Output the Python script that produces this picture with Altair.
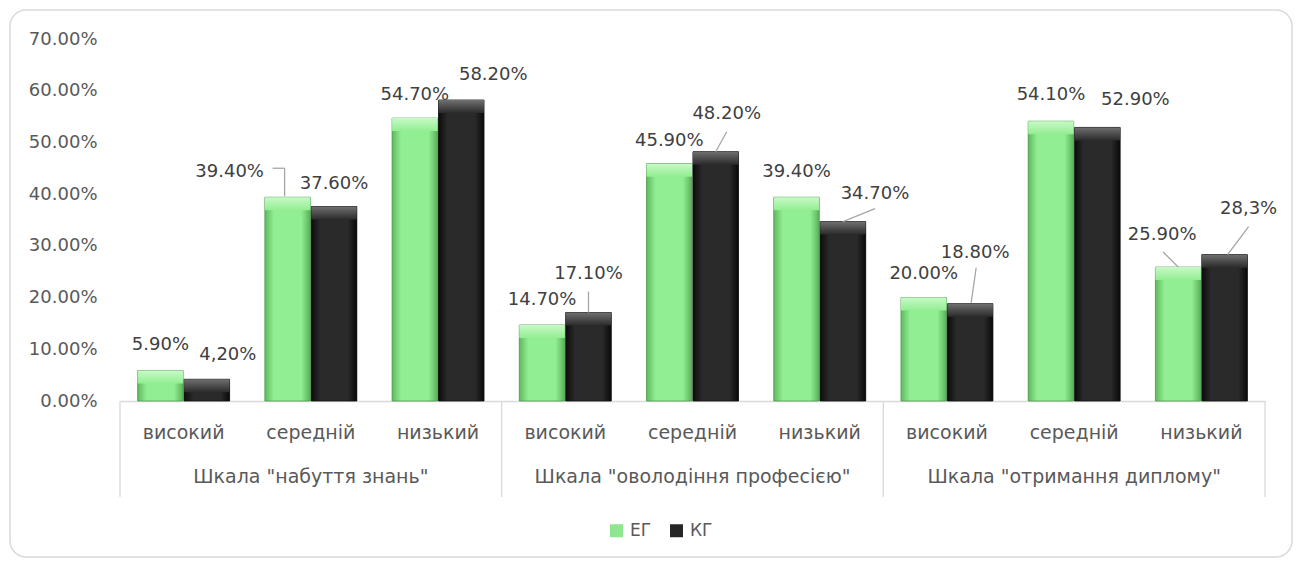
import altair as alt
import pandas as pd

# ---------------- data ----------------
GROUPS = ['Шкала "набуття знань"', 'Шкала "оволодіння професією"', 'Шкала "отримання диплому"']
LEVELS = ["високий", "середній", "низький"]
SERIES = ["ЕГ", "КГ"]
EG = [0.059, 0.394, 0.547, 0.147, 0.459, 0.394, 0.200, 0.541, 0.259]
KG = [0.042, 0.376, 0.582, 0.171, 0.482, 0.347, 0.188, 0.529, 0.283]
EG_LABELS = ["5.90%", "39.40%", "54.70%", "14.70%", "45.90%", "39.40%", "20.00%", "54.10%", "25.90%"]
KG_LABELS = ["4,20%", "37.60%", "58.20%", "17.10%", "48.20%", "34.70%", "18.80%", "52.90%", "28,3%"]
Y_TICKS = [0.0, 0.1, 0.2, 0.3, 0.4, 0.5, 0.6, 0.7]

# ---------------- label layout (pixel offsets from bar centre / bar top) ----------------
EG_DX = [0, -58, 0, 0, 0, 0, 0, 0, -16]
EG_DY = [-25, -25, -23, -25, -23, -25, -24, -26, -32]
KG_DX = [21, 0, 32, 0, 11, 32, 5, 38, 24]
KG_DY = [-24, -23, -25, -39, -38, -28, -51, -27, -46]
# leader lines: series, category index, x1, y1, x2, y2 (px from bar centre / bar top)
LEADERS = [
    ("ЕГ", 1, -15, -29, -3, -29),
    ("ЕГ", 1, -3, -29, -3, -1),
    ("КГ", 3, 0, -21, 0, 0),
    ("КГ", 4, 11, -20, 0, 0),
    ("КГ", 5, 32, -13, 0, 0),
    ("КГ", 6, 6, -36, 1, -1),
    ("ЕГ", 8, -15, -15, 0, 0),
    ("КГ", 8, 24, -28, 3, 0),
]

# ---------------- layout ----------------
W, H = 1145, 362
PI_OFF, PO_OFF = 0.02, 0.38
step = W / 9
sub = step / (2 - PI_OFF + 2 * PO_OFF)
BAR_CENTER = {
    s: PO_OFF * sub + k * sub + sub * (1 - PI_OFF) / 2 - step / 2
    for k, s in enumerate(SERIES)
}

CATS = [f"{g}|{lv}" for g in range(3) for lv in LEVELS]

rows = []
for i, cat in enumerate(CATS):
    rows.append({"cat": cat, "series": "ЕГ", "value": EG[i], "label": EG_LABELS[i]})
    rows.append({"cat": cat, "series": "КГ", "value": KG[i], "label": KG_LABELS[i]})
df = pd.DataFrame(rows)

FONT = "DejaVu Sans"
GRAY = "#595959"


def x_enc(**kw):
    return alt.X(
        "cat:N",
        scale=alt.Scale(domain=CATS, paddingInner=0, paddingOuter=0),
        axis=alt.Axis(
            title=None,
            labelExpr="split(datum.label, '|')[1]",
            labelAngle=0,
            labelFontSize=19,
            labelColor=GRAY,
            labelFont=FONT,
            labelPadding=31,
            labelBaseline="middle",
            ticks=False,
            tickSize=0,
            grid=False,
            domainColor="#d9d9d9",
            domainWidth=1.3,
        ),
        **kw,
    )


Y_ENC = alt.Y(
    "value:Q",
    scale=alt.Scale(domain=[0, 0.7]),
    axis=alt.Axis(
        title=None,
        values=Y_TICKS,
        format=".2%",
        grid=False,
        domain=False,
        ticks=False,
        tickSize=0,
        labelFontSize=18,
        labelColor=GRAY,
        labelFont=FONT,
        labelPadding=23,
    ),
)
XOFF = alt.XOffset(
    "series:N", scale=alt.Scale(domain=SERIES, paddingInner=PI_OFF, paddingOuter=PO_OFF)
)

base = alt.Chart(df).encode(x=x_enc(), xOffset=XOFF, y=Y_ENC)

legend_bars = base.mark_bar().encode(
    color=alt.Color(
        "series:N",
        scale=alt.Scale(domain=SERIES, range=["#8fe68f", "#262626"]),
        legend=alt.Legend(
            title=None,
            orient="none",
            legendX=488,
            legendY=483,
            direction="horizontal",
            symbolType="square",
            symbolSize=169,
            symbolStrokeWidth=0,
            labelFontSize=17,
            labelColor=GRAY,
            labelFont=FONT,
            labelOffset=5,
            columnPadding=16,
        ),
    )
)


def hgrad(edge, mid, edge2):
    return alt.Gradient(
        gradient="linear", x1=0, x2=1, y1=0, y2=0,
        stops=[
            alt.GradientStop(color=edge, offset=0),
            alt.GradientStop(color=mid, offset=0.2),
            alt.GradientStop(color=mid, offset=0.8),
            alt.GradientStop(color=edge2, offset=1),
        ],
    )


def vgrad(top, bottom):
    return alt.Gradient(
        gradient="linear", x1=0, x2=0, y1=0, y2=1,
        stops=[alt.GradientStop(color=top, offset=0), alt.GradientStop(color=bottom, offset=1)],
    )


eg_body = base.transform_filter(alt.datum.series == "ЕГ").mark_bar(
    color=hgrad("#5fba5f", "#92ee92", "#58b058"), stroke="#4f9a4f", strokeWidth=0.8
)
kg_body = base.transform_filter(alt.datum.series == "КГ").mark_bar(
    color=hgrad("#0c0c0c", "#2a2a2a", "#090909"), stroke="#0f0f0f", strokeWidth=0.8
)
eg_top = base.transform_filter(alt.datum.series == "ЕГ").mark_bar(
    color=vgrad("#c8f9c8", "#92ee92"), y2Offset=13, xOffset=5, x2Offset=-5
).encode(y2=alt.Y2("value:Q"))
kg_top = base.transform_filter(alt.datum.series == "КГ").mark_bar(
    color=vgrad("#707070", "#2a2a2a"), y2Offset=13, xOffset=5, x2Offset=-5
).encode(y2=alt.Y2("value:Q"))

layers = [legend_bars, eg_body, kg_body, eg_top, kg_top]

# data labels
for i, cat in enumerate(CATS):
    for s, dxs, dys in (("ЕГ", EG_DX, EG_DY), ("КГ", KG_DX, KG_DY)):
        layers.append(
            base.transform_filter((alt.datum.cat == cat) & (alt.datum.series == s))
            .mark_text(
                dx=dxs[i], dy=dys[i], fontSize=18, font=FONT, color="#404040",
                align="center", baseline="middle",
            )
            .encode(text="label:N")
        )

# leader lines
for s, i, x1, y1, x2, y2 in LEADERS:
    layers.append(
        alt.Chart(df)
        .transform_filter((alt.datum.cat == CATS[i]) & (alt.datum.series == s))
        .mark_rule(
            color="#a6a6a6", strokeWidth=1.3,
            xOffset=BAR_CENTER[s] + x1, yOffset=y1,
            x2Offset=BAR_CENTER[s] + x2, y2Offset=y2,
        )
        .encode(x=x_enc(), x2=alt.X2("cat:N"), y=Y_ENC, y2=alt.Y2("value:Q"))
    )

# group labels under the axis
gdf = pd.DataFrame({"cat": [CATS[1], CATS[4], CATS[7]], "group": GROUPS})
layers.append(
    alt.Chart(gdf)
    .mark_text(fontSize=19, font=FONT, color=GRAY, baseline="middle")
    .encode(x=x_enc(), y=alt.value(H + 76), text="group:N")
)

# separators of the multi-level axis
sep_start = pd.DataFrame({"cat": [CATS[0], CATS[3], CATS[6]]})
sep_end = pd.DataFrame({"cat": [CATS[8]]})
for d, bp in ((sep_start, 0), (sep_end, 1)):
    layers.append(
        alt.Chart(d)
        .mark_rule(color="#d9d9d9", strokeWidth=1.3)
        .encode(x=x_enc(bandPosition=bp), y=alt.value(H), y2=alt.value(H + 96))
    )

# rounded outer frame
layers.append(
    alt.Chart(pd.DataFrame({"f": [0]}))
    .mark_rect(cornerRadius=16, fillOpacity=0, stroke="#d9d9d9", strokeWidth=1.5)
    .encode(x=alt.value(-110), x2=alt.value(1172), y=alt.value(-29), y2=alt.value(518))
)

chart = (
    alt.layer(*layers)
    .properties(
        width=W,
        height=H,
        autosize=alt.AutoSizeParams(type="none"),
        padding={"left": 120, "top": 39, "right": 35, "bottom": 161},
        background="white",
    )
    .configure(font=FONT)
    .configure_view(stroke="transparent", strokeWidth=0)
)

chart.save("out.html", embed_options={"renderer": "svg", "actions": False})
